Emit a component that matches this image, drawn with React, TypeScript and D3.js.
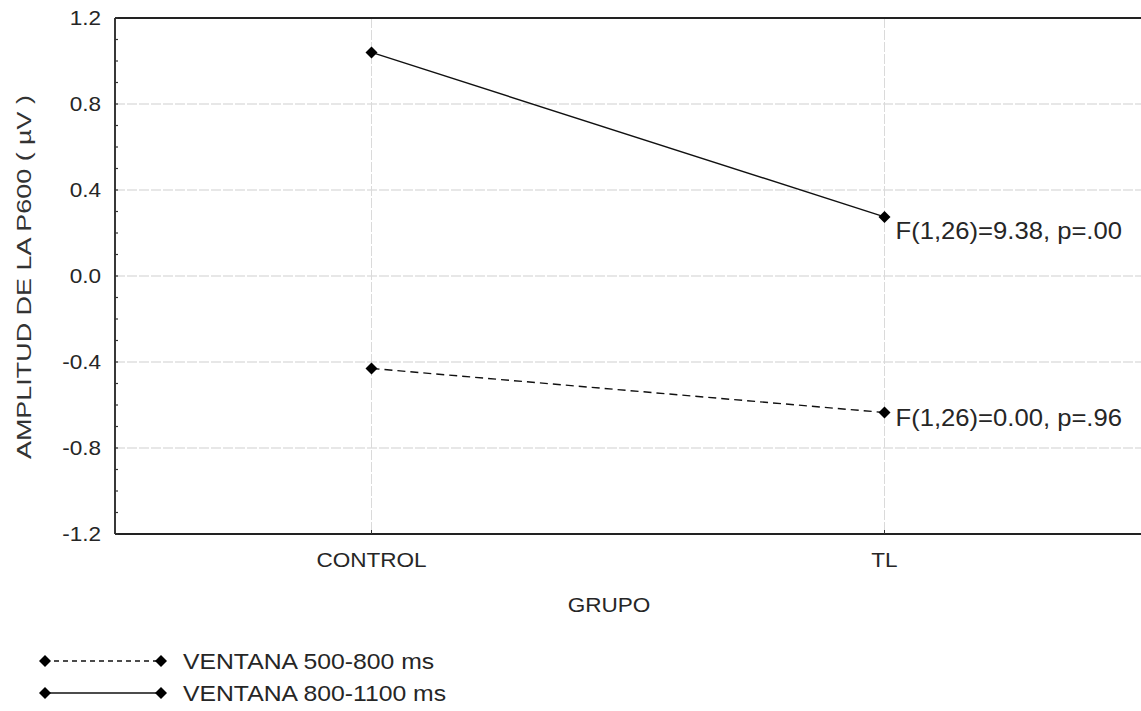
import React from "react";
import * as d3 from "d3";

const categories = ["CONTROL", "TL"];
const seriesNames = ["VENTANA 500-800 ms", "VENTANA 800-1100 ms"];
const series500 = [-0.43, -0.635];
const series800 = [1.04, 0.275];
const annotations = ["F(1,26)=0.00, p=.96", "F(1,26)=9.38, p=.00"];
const yTicks = [-1.2, -0.8, -0.4, 0.0, 0.4, 0.8, 1.2];
const yMinor = d3.range(-12, 13).map((v) => v / 10);

const W = 1141, H = 711;
const L = 115, R = 1141, T = 18, B = 534;
const FONT = "'Liberation Sans', Arial, sans-serif";
const FS = 20.5;
const SX = 1.1;

function Diamond({ x, y, s = 6 }: { x: number; y: number; s?: number }) {
  return <path d={`M${x},${y - s}L${x + s},${y}L${x},${y + s}L${x - s},${y}Z`} fill="#000" />;
}

function T2({ x, y, anchor = "start", fs = FS, children }: { x: number; y: number; anchor?: string; fs?: number; children: any }) {
  return (
    <g transform={`translate(${x},${y}) scale(${SX},1)`}>
      <text x={0} y={0} dy="0.35em" textAnchor={anchor as any} fontSize={fs} fill="#262626">
        {children}
      </text>
    </g>
  );
}

const fmt = (t: number) => d3.format(".1f")(t).replace("\u2212", "-");

export default function App() {
  const x = d3.scalePoint<string>().domain(categories).range([L, R]).padding(0.5);
  const y = d3.scaleLinear().domain([-1.2, 1.2]).range([B, T]);
  const line = d3.line<number>().x((_, i) => x(categories[i])!).y((d) => y(d));
  const data = [
    { name: seriesNames[0], values: series500, dash: "8,5", note: annotations[0], noteDy: 5 },
    { name: seriesNames[1], values: series800, dash: undefined, note: annotations[1], noteDy: 14 },
  ];
  return (
    <svg width={W} height={H} style={{ position: "absolute", left: 0, top: 0, background: "#fff" }} fontFamily={FONT}>
      {/* grid */}
      {yTicks.slice(1, -1).map((t) => (
        <line key={t} x1={L} x2={R} y1={y(t)} y2={y(t)} stroke="#cfcfcf" strokeWidth={1} strokeDasharray="10,2" />
      ))}
      {categories.map((c) => (
        <line key={c} x1={x(c)} x2={x(c)} y1={T} y2={B} stroke="#dadada" strokeWidth={1} strokeDasharray="10,2" />
      ))}
      {/* frame */}
      <line x1={L} x2={R} y1={T} y2={T} stroke="#222" strokeWidth={1.8} />
      <line x1={L} x2={R} y1={B} y2={B} stroke="#222" strokeWidth={1.8} />
      <line x1={L} x2={L} y1={T} y2={B} stroke="#222" strokeWidth={1.8} />
      {/* minor ticks */}
      {yMinor.map((t) => (
        <line key={t} x1={L} x2={L + 3} y1={y(t)} y2={y(t)} stroke="#333" strokeWidth={1.2} />
      ))}
      {categories.map((c) => (
        <line key={"xt" + c} x1={x(c)} x2={x(c)} y1={B} y2={B - 4} stroke="#333" strokeWidth={1} />
      ))}
      {/* y labels */}
      {yTicks.map((t) => (
        <T2 key={"l" + t} x={101} y={y(t)} anchor="end">{fmt(t)}</T2>
      ))}
      {categories.map((c) => (
        <T2 key={"c" + c} x={x(c)!} y={560} anchor="middle">{c}</T2>
      ))}
      <T2 x={609} y={605} anchor="middle">GRUPO</T2>
      <text
        transform={`translate(24,${(T + B) / 2 + 1}) rotate(-90)`}
        dy="0.35em"
        textAnchor="middle"
        fontSize={FS}
        fill="#333"
        textLength={364}
        lengthAdjust="spacingAndGlyphs"
      >
        AMPLITUD DE LA P600 ( µV )
      </text>
      {/* series */}
      {data.map((s) => (
        <g key={s.name}>
          <path d={line(s.values)!} fill="none" stroke="#111" strokeWidth={1.4} strokeDasharray={s.dash} />
          {s.values.map((v, i) => (
            <Diamond key={i} x={x(categories[i])!} y={y(v)} />
          ))}
          <T2 x={x(categories[1])! + 11} y={y(s.values[1]) + s.noteDy} fs={23.3}>{s.note}</T2>
        </g>
      ))}
      {/* legend */}
      {data.map((s, i) => {
        const ly = 661 + i * 32;
        return (
          <g key={"lg" + i}>
            <line x1={45} x2={161} y1={ly} y2={ly} stroke="#111" strokeWidth={1.4} strokeDasharray={s.dash ? "5,4" : undefined} />
            <Diamond x={45} y={ly} s={6} />
            <Diamond x={161} y={ly} s={6} />
            <T2 x={183} y={ly} fs={22.5}>{s.name}</T2>
          </g>
        );
      })}
    </svg>
  );
}
